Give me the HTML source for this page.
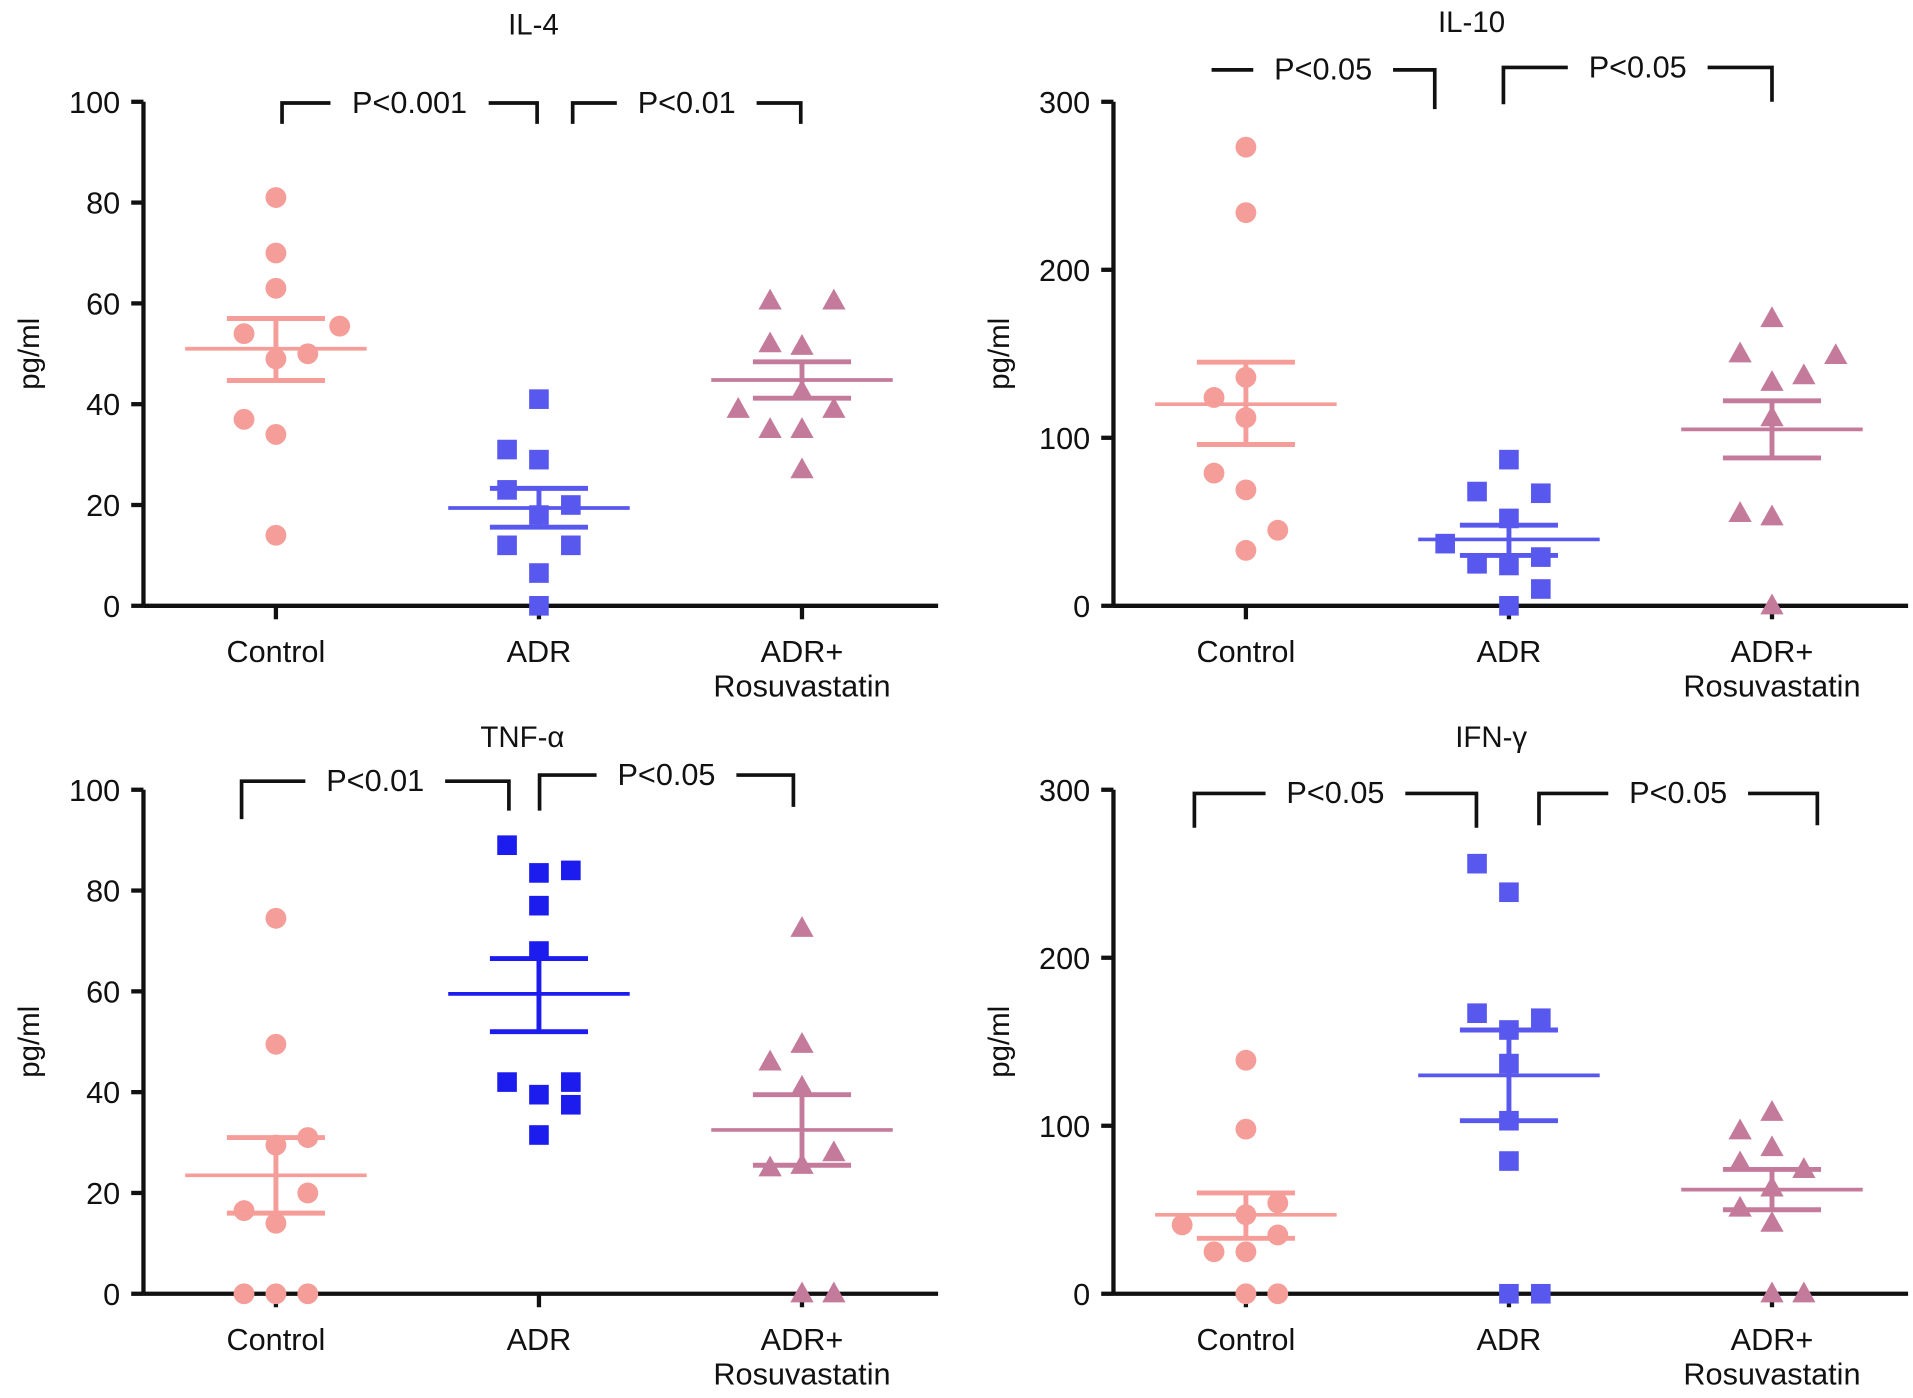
<!DOCTYPE html>
<html><head><meta charset="utf-8"><style>
html,body{margin:0;padding:0;background:#fff}
svg{display:block}
text{font-family:"Liberation Sans",sans-serif;fill:#111}
</style></head><body>
<svg id="fig" width="1913" height="1398" viewBox="0 0 1560 1140" preserveAspectRatio="none" xmlns="http://www.w3.org/2000/svg"></svg>
<script>
const categories = ["Control","ADR","ADR+\nRosuvastatin"];
// IL-4
const il4Control = [81,70,63,54,55.5,50,49,37,34,14];
const il4ControlJitter = [0,0,0,-1,2,1,0,-1,0,0];
const il4Adr = [41,31,29,23,20,18,12,12,6.5,0];
const il4AdrJitter = [0,-1,0,-1,1,0,-1,1,0,0];
const il4Ros = [60.5,60.5,52,51.5,42.5,39,39,35,35,27];
const il4RosJitter = [-1,1,-1,0,0,-2,1,-1,0,0];
const il4Mean = [51,19.4,44.8];
const il4SemHi = [57,23.3,48.4];
const il4SemLo = [44.7,15.6,41.2];
const il4Ticks = [0,20,40,60,80,100];
// IL-10
const il10Control = [273,234,136,124,112,79,69,45,33];
const il10ControlJitter = [0,0,0,-1,0,-1,0,1,0];
const il10Adr = [87,68,67,52,37,25,24,29,10,0];
const il10AdrJitter = [0,-1,1,0,-2,-1,0,1,1,0];
const il10Ros = [171,150,149,137,133,112,55,53,0];
const il10RosJitter = [0,-1,2,1,0,0,-1,0,0];
const il10Mean = [120,39.5,105];
const il10SemHi = [145,48,122];
const il10SemLo = [96,30,88];
const il10Ticks = [0,100,200,300];
// TNF-a
const tnfControl = [74.5,49.5,31,29.5,20,16.5,14,0,0,0];
const tnfControlJitter = [0,0,1,0,1,-1,0,-1,0,1];
const tnfAdr = [89,83.5,84,77,68,42,42,39.5,37.5,31.5];
const tnfAdrJitter = [-1,0,1,0,0,-1,1,0,1,0];
const tnfRos = [72.5,49.5,46,41,28,25,25.5,0,0];
const tnfRosJitter = [0,0,-1,0,1,-1,0,0,1];
const tnfMean = [23.5,59.5,32.5];
const tnfSemHi = [31,66.5,39.5];
const tnfSemLo = [16,52,25.5];
const tnfTicks = [0,20,40,60,80,100];
// IFN-g
const ifnControl = [139,98,54,47,41,35,25,25,0,0];
const ifnControlJitter = [0,0,1,0,-2,1,-1,0,0,1];
const ifnAdr = [256,239,167,164,157,137,103,79,0,0];
const ifnAdrJitter = [-1,0,-1,1,0,0,0,0,0,1];
const ifnRos = [108,97,87,78,74,63,51,42,0,0];
const ifnRosJitter = [0,-1,0,-1,1,0,-1,0,0,1];
const ifnMean = [47,130,62];
const ifnSemHi = [60,157,74];
const ifnSemLo = [33,103,50];
const ifnTicks = [0,100,200,300];

const NS="http://www.w3.org/2000/svg";
const svg=document.getElementById('fig');
function mk(tag,attrs,parent){const e=document.createElementNS(NS,tag);for(const k in attrs)e.setAttribute(k,attrs[k]);(parent||svg).appendChild(e);return e;}

function panel(p){
  const g=mk('g',{});
  
  
  const y=v=>p.y0-(v/p.max)*(p.y0-p.yTop);
  const cx=i=>p.ax+108+i*214.5;
  const t=mk('text',{x:p.tx,y:p.ty,'font-size':24,'text-anchor':'middle'},g);t.textContent=p.title;
  
  
  const yt=mk('text',{transform:`translate(${p.ax-85},${(p.y0+p.yTop)/2}) rotate(-90)`,'font-size':24,'text-anchor':'middle'},g);yt.textContent='pg/ml';
  
  
  mk('line',{x1:p.ax,y1:p.yTop,x2:p.ax,y2:p.y0,stroke:'#111','stroke-width':3.5},g);
  mk('line',{x1:p.ax,y1:p.y0,x2:p.ax+648,y2:p.y0,stroke:'#111','stroke-width':3.5},g);
  p.ticks.forEach(v=>{
    mk('line',{x1:p.ax-10,y1:y(v),x2:p.ax,y2:y(v),stroke:'#111','stroke-width':3.5},g);
    const tl=mk('text',{x:p.ax-19,y:y(v)+9,'font-size':25,'text-anchor':'end'},g);tl.textContent=v;
    
    
  });
  categories.forEach((c,i)=>{
    mk('line',{x1:cx(i),y1:p.y0,x2:cx(i),y2:p.y0+11,stroke:'#111','stroke-width':3.5},g);
    const lines=c.split('\n');
    lines.forEach((s,j)=>{const tl=mk('text',{x:cx(i),y:p.y0+46+j*28,'font-size':25,'text-anchor':'middle'},g);tl.textContent=s;
      
      });
  });
  const colors=['#f59d98',p.adrColor,'#c47b9b'];
  const shapes=['circle','square','triangle'];
  p.series.forEach((s,i)=>{
    s.vals.forEach((v,k)=>{
      const px=cx(i)+s.jit[k]*26, py=y(v);
      let m;
      if(shapes[i]==='circle') m=mk('circle',{cx:px,cy:py,r:8.5,fill:colors[i]},g);
      else if(shapes[i]==='square') m=mk('rect',{x:px-8,y:py-8,width:16,height:16,fill:colors[i]},g);
      else m=mk('polygon',{points:`${px},${py-10} ${px-9.5},${py+7} ${px+9.5},${py+7}`,fill:colors[i]},g);
      
      
    });
    const mm=mk('line',{x1:cx(i)-74,x2:cx(i)+74,y1:y(p.mean[i]),y2:y(p.mean[i]),stroke:colors[i],'stroke-width':3},g);
    
    
    mk('line',{x1:cx(i),x2:cx(i),y1:y(p.hi[i]),y2:y(p.lo[i]),stroke:colors[i],'stroke-width':4},g);
    mk('line',{x1:cx(i)-40,x2:cx(i)+40,y1:y(p.hi[i]),y2:y(p.hi[i]),stroke:colors[i],'stroke-width':4},g);
    mk('line',{x1:cx(i)-40,x2:cx(i)+40,y1:y(p.lo[i]),y2:y(p.lo[i]),stroke:colors[i],'stroke-width':4},g);
  });
  p.brackets.forEach(b=>{
    const [x1,x2,by,d1,d2,label]=b;
    const mid=(x1+x2)/2, half=label.length*7.5+12;
    mk('path',{d:`M${x1},${by+d1} V${by} H${mid-half} M${mid+half},${by} H${x2} V${by+d2}`,stroke:'#111','stroke-width':3,fill:'none'},g);
    const bt=mk('text',{x:mid,y:by+8,'font-size':25,'text-anchor':'middle'},g);bt.textContent=label;
    
    
  });
}
panel({id:'il4',title:'IL-4',tx:435,ty:28,ax:117,y0:494,yTop:83,max:100,ticks:il4Ticks,adrColor:'#5858ef',
  series:[{vals:il4Control,jit:il4ControlJitter},{vals:il4Adr,jit:il4AdrJitter},{vals:il4Ros,jit:il4RosJitter}],
  mean:il4Mean,hi:il4SemHi,lo:il4SemLo,
  brackets:[[230,438,84,17,17,'P<0.001'],[467,653,84,17,17,'P<0.01']]});
panel({id:'il10',title:'IL-10',tx:1200,ty:26,ax:908,y0:494,yTop:83,max:300,ticks:il10Ticks,adrColor:'#5858ef',
  series:[{vals:il10Control,jit:il10ControlJitter},{vals:il10Adr,jit:il10AdrJitter},{vals:il10Ros,jit:il10RosJitter}],
  mean:il10Mean,hi:il10SemHi,lo:il10SemLo,
  brackets:[[988,1170,57,0,32,'P<0.05'],[1226,1445,55,30,28,'P<0.05']]});
panel({id:'tnf',title:'TNF-α',tx:426,ty:609,ax:117,y0:1055,yTop:644,max:100,ticks:tnfTicks,adrColor:'#1c1cee',
  series:[{vals:tnfControl,jit:tnfControlJitter},{vals:tnfAdr,jit:tnfAdrJitter},{vals:tnfRos,jit:tnfRosJitter}],
  mean:tnfMean,hi:tnfSemHi,lo:tnfSemLo,
  brackets:[[197,415,637,31,24,'P<0.01'],[440,647,632,29,26,'P<0.05']]});
panel({id:'ifn',title:'IFN-γ',tx:1216,ty:609,ax:908,y0:1055,yTop:644,max:300,ticks:ifnTicks,adrColor:'#5858ef',
  series:[{vals:ifnControl,jit:ifnControlJitter},{vals:ifnAdr,jit:ifnAdrJitter},{vals:ifnRos,jit:ifnRosJitter}],
  mean:ifnMean,hi:ifnSemHi,lo:ifnSemLo,
  brackets:[[974,1204,647,28,28,'P<0.05'],[1255,1482,647,26,26,'P<0.05']]});
</script>
</body></html>
